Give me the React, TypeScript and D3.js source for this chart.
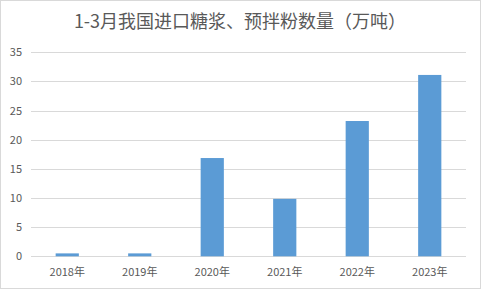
import React from "react";
import * as d3 from "d3";

const categories = ["2018年", "2019年", "2020年", "2021年", "2022年", "2023年"];
const values = [0.5, 0.5, 16.85, 9.85, 23.2, 31.1];
const yTicks = [0, 5, 10, 15, 20, 25, 30, 35];
const title = "1-3月我国进口糖浆、预拌粉数量（万吨）";

const W = 481;
const H = 289;
const FONT = "'Noto Sans CJK SC', 'Microsoft YaHei', sans-serif";

export default function App() {
  const left = 31;
  const right = 466;
  const top = 52.2;
  const bottom = 256.3;
  const x = d3.scaleBand<string>().domain(categories).range([left, right]).paddingInner(0.68).paddingOuter(0.34);
  const y = d3.scaleLinear().domain([0, 35]).range([bottom, top]);
  return (
    <svg width={W} height={H} style={{ position: "absolute", left: 0, top: 0, background: "#fff" }}>
      <rect x={0.5} y={0.5} width={W - 1} height={H - 1} fill="#fff" stroke="#d9d9d9" />
      <text x={240} y={28} textAnchor="middle" fontFamily={FONT} fontSize={18} fill="#595959">
        {title}
      </text>
      {yTicks.map((t) => (
        <g key={t}>
          <line x1={left} x2={right} y1={Math.round(y(t)) + 0.5} y2={Math.round(y(t)) + 0.5} stroke="#d9d9d9" strokeWidth={1} />
          <text x={22} y={y(t) + 4} textAnchor="end" fontFamily={FONT} fontSize={11} fill="#595959">
            {t}
          </text>
        </g>
      ))}
      {categories.map((c, i) => (
        <g key={c}>
          <rect x={x(c)} y={y(values[i])} width={x.bandwidth()} height={bottom - y(values[i])} fill="#5b9bd5" />
          <text x={(x(c) as number) + x.bandwidth() / 2} y={276} textAnchor="middle" fontFamily={FONT} fontSize={11} fill="#595959">
            {c}
          </text>
        </g>
      ))}
    </svg>
  );
}
